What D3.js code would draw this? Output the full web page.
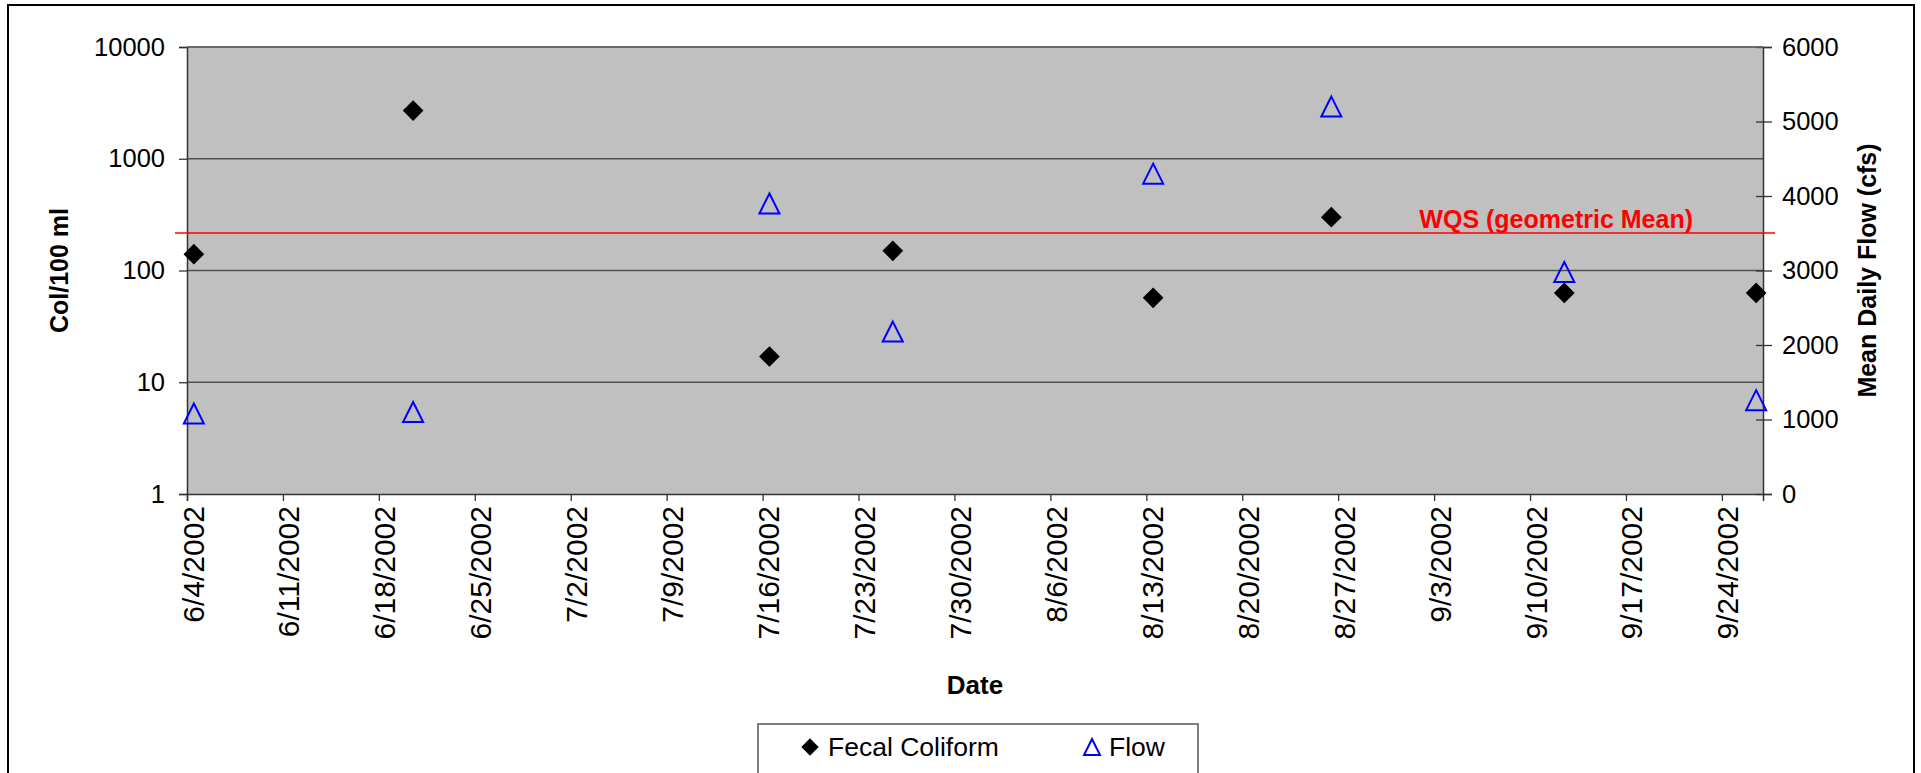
<!DOCTYPE html>
<html>
<head>
  <meta charset="utf-8">
  <style>
    body { margin: 0; background: #fff; }
    text { font-family: "Liberation Sans", Arial, sans-serif; }
  </style>
</head>
<body>
<script src="https://d3js.org/d3.v7.min.js"></script>
<script>

// sample dates and readings
var sampleDates = ["2002-06-04", "2002-06-20", "2002-07-16", "2002-07-25",
                   "2002-08-13", "2002-08-26", "2002-09-12", "2002-09-26"];
var fecalColiform = [140, 2700, 17, 150, 57, 300, 63, 63];
var meanFlow = [1080, 1100, 3900, 2180, 4300, 5200, 2980, 1260];
var logTicks = [1, 10, 100, 1000, 10000];
var flowTicks = [0, 1000, 2000, 3000, 4000, 5000, 6000];
var wqsValue = 216;
var wqsLabel = "WQS (geometric Mean)";

var parseDay = d3.timeParse("%Y-%m-%d");
var fmtDay = d3.timeFormat("%-m/%-d/%Y");

var W = 1921, H = 773;
var plotL = 187, plotR = 1763, plotT = 47, plotB = 494;

var svg = d3.select("body").append("svg")
  .attr("width", W)
  .attr("height", H);

// outer chart frame
svg.append("rect")
  .attr("x", 8).attr("y", 5)
  .attr("width", 1906).attr("height", 800)
  .attr("fill", "#fff")
  .attr("stroke", "#000")
  .attr("stroke-width", 2);

var x = d3.scaleTime()
  .domain([parseDay("2002-06-04"), parseDay("2002-09-27")])
  .range([plotL, plotR]);
var y = d3.scaleLog().domain([1, 10000]).range([plotB, plotT]);
var yFlow = d3.scaleLinear().domain([0, 6000]).range([plotB, plotT]);

// points sit in the middle of their day
function xMid(s) { return x(d3.timeHour.offset(parseDay(s), 12)); }

svg.append("rect")
  .attr("x", plotL).attr("y", plotT)
  .attr("width", plotR - plotL).attr("height", plotB - plotT)
  .attr("fill", "#c0c0c0");

// gridlines
svg.append("g").selectAll("line")
  .data(logTicks.slice(1))
  .join("line")
  .attr("x1", plotL).attr("x2", plotR)
  .attr("y1", d => y(d)).attr("y2", d => y(d))
  .attr("stroke", "#505050")
  .attr("stroke-width", 1.5);

// left axis
var gLeft = svg.append("g")
  .attr("transform", "translate(" + plotL + ",0)")
  .call(d3.axisLeft(y).tickValues(logTicks).tickFormat(d3.format("d"))
    .tickSize(8).tickPadding(14));
gLeft.selectAll("text").attr("font-size", 25.5).attr("fill", "#000");

// right axis, ticks cross the line
var gRight = svg.append("g")
  .attr("transform", "translate(" + plotR + ",0)")
  .call(d3.axisRight(yFlow).tickValues(flowTicks).tickFormat(d3.format("d"))
    .tickSize(9).tickPadding(10));
gRight.selectAll(".tick line").attr("x1", -7);
gRight.selectAll("text").attr("font-size", 25.5).attr("fill", "#000");

// bottom axis, a tick every week
var weekTicks = d3.range(0, 17).map(i => d3.timeDay.offset(parseDay("2002-06-04"), i * 7));
var gBottom = svg.append("g")
  .attr("transform", "translate(0," + plotB + ")")
  .call(d3.axisBottom(x).tickValues(weekTicks).tickFormat(fmtDay).tickSize(7));
gBottom.selectAll("text")
  .attr("font-size", 30)
  .attr("fill", "#000")
  .attr("text-anchor", "end")
  .attr("dy", null)
  .attr("y", 0)
  .attr("transform", "translate(16,12) rotate(-90)");

svg.selectAll(".domain").attr("stroke", "#333").attr("stroke-width", 1.5);
svg.selectAll(".tick line").attr("stroke", "#333").attr("stroke-width", 1.3);

// top edge
svg.append("line")
  .attr("x1", plotL).attr("x2", plotR)
  .attr("y1", plotT).attr("y2", plotT)
  .attr("stroke", "#666").attr("stroke-width", 1.5);

// WQS reference line
svg.append("line")
  .attr("x1", plotL - 12).attr("x2", plotR + 12)
  .attr("y1", y(wqsValue)).attr("y2", y(wqsValue))
  .attr("stroke", "#ff0000").attr("stroke-width", 1.5);
svg.append("text")
  .attr("x", 1693).attr("y", y(wqsValue) - 5)
  .attr("text-anchor", "end")
  .attr("font-size", 25)
  .attr("font-weight", "bold")
  .attr("fill", "#ff0000")
  .text(wqsLabel);

var diamond = d3.symbol().type(d3.symbolSquare).size(215);
var tri = "M0,-10L10,10L-10,10Z";

// flow markers
svg.append("g").selectAll("path")
  .data(meanFlow)
  .join("path")
  .attr("d", tri)
  .attr("transform", (d, i) => "translate(" + xMid(sampleDates[i]) + "," + yFlow(d) + ")")
  .attr("fill", "none")
  .attr("stroke", "#0000ff")
  .attr("stroke-width", 2);

// fecal coliform markers
svg.append("g").selectAll("path")
  .data(fecalColiform)
  .join("path")
  .attr("d", diamond)
  .attr("transform", (d, i) => "translate(" + xMid(sampleDates[i]) + "," + y(d) + ") rotate(45)")
  .attr("fill", "#000");

// axis titles
svg.append("text")
  .attr("transform", "translate(68," + (plotT + plotB) / 2 + ") rotate(-90)")
  .attr("text-anchor", "middle")
  .attr("font-size", 25)
  .attr("font-weight", "bold")
  .text("Col/100 ml");
svg.append("text")
  .attr("transform", "translate(1876," + (plotT + plotB) / 2 + ") rotate(-90)")
  .attr("text-anchor", "middle")
  .attr("font-size", 25)
  .attr("font-weight", "bold")
  .text("Mean Daily Flow (cfs)");
svg.append("text")
  .attr("x", (plotL + plotR) / 2).attr("y", 694)
  .attr("text-anchor", "middle")
  .attr("font-size", 26)
  .attr("font-weight", "bold")
  .text("Date");

// legend
var lg = svg.append("g");
lg.append("rect")
  .attr("x", 758).attr("y", 724)
  .attr("width", 440).attr("height", 70)
  .attr("fill", "#fff")
  .attr("stroke", "#555")
  .attr("stroke-width", 1.5);
lg.append("path")
  .attr("d", d3.symbol().type(d3.symbolSquare).size(150))
  .attr("transform", "translate(810,747) rotate(45)")
  .attr("fill", "#000");
lg.append("text")
  .attr("x", 828).attr("y", 756)
  .attr("font-size", 26.5)
  .text("Fecal Coliform");
lg.append("path")
  .attr("d", "M0,-8L8,8L-8,8Z")
  .attr("transform", "translate(1092,747)")
  .attr("fill", "none")
  .attr("stroke", "#0000ff")
  .attr("stroke-width", 2);
lg.append("text")
  .attr("x", 1109).attr("y", 756)
  .attr("font-size", 26.5)
  .text("Flow");

</script>
</body>
</html>
